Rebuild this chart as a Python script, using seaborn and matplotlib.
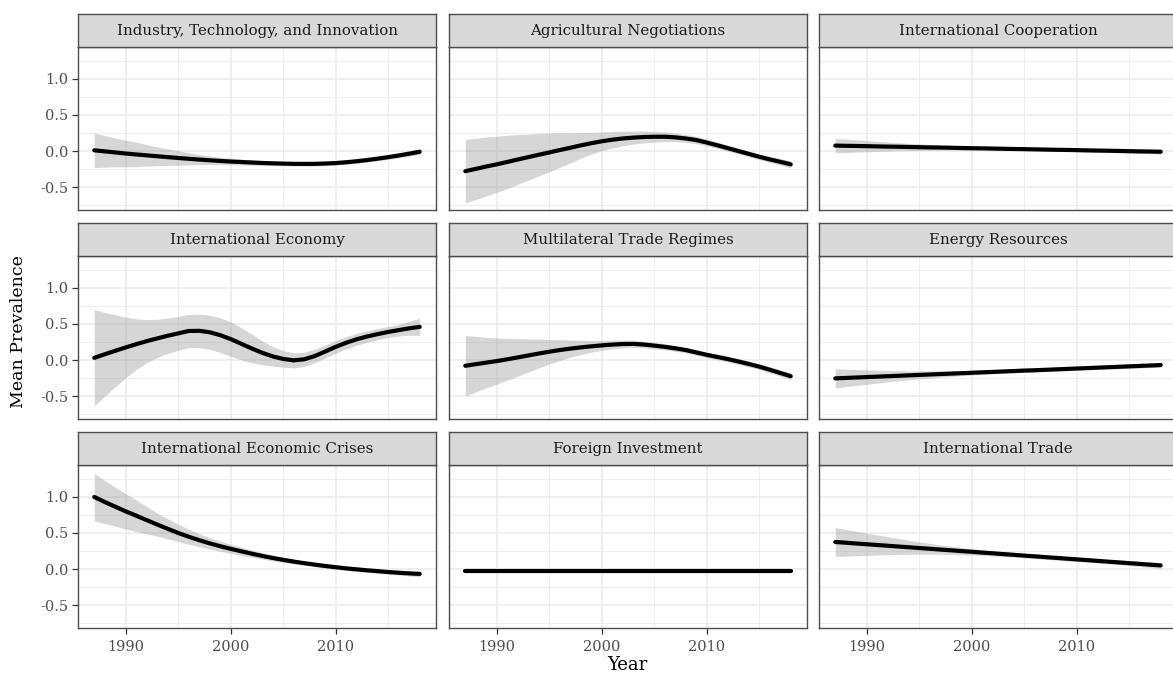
import matplotlib
matplotlib.use("Agg")
import matplotlib.pyplot as plt
import matplotlib.ticker as mticker
import pandas as pd
import seaborn as sns

# smoothed mean prevalence per topic (fit and half-width of the band)
years = list(range(1987, 2019))

topics = ["Industry, Technology, and Innovation", "Agricultural Negotiations",
          "International Cooperation", "International Economy",
          "Multilateral Trade Regimes", "Energy Resources",
          "International Economic Crises", "Foreign Investment", "International Trade"]

# rows of 8 years: 1987-1994, 1995-2002, 2003-2010, 2011-2018
industry_fit = [0.01, -0.005, -0.02, -0.035, -0.048, -0.06, -0.073, -0.085,
                -0.097, -0.108, -0.119, -0.129, -0.138, -0.146, -0.153, -0.16,
                -0.166, -0.171, -0.175, -0.178, -0.179, -0.178, -0.174, -0.167,
                -0.156, -0.142, -0.125, -0.106, -0.085, -0.062, -0.037, -0.01]
industry_se = [0.24, 0.22, 0.20, 0.185, 0.17, 0.15, 0.13, 0.115,
               0.10, 0.085, 0.07, 0.06, 0.05, 0.045, 0.04, 0.038,
               0.035, 0.033, 0.03, 0.03, 0.03, 0.03, 0.03, 0.03,
               0.03, 0.03, 0.03, 0.03, 0.03, 0.033, 0.036, 0.04]

agri_fit = [-0.28, -0.248, -0.215, -0.185, -0.152, -0.118, -0.085, -0.052,
            -0.02, 0.013, 0.045, 0.078, 0.108, 0.135, 0.157, 0.174,
            0.186, 0.194, 0.198, 0.198, 0.19, 0.174, 0.152, 0.118,
            0.08, 0.04, 0.0, -0.04, -0.08, -0.116, -0.15, -0.185]
agri_se = [0.44, 0.425, 0.41, 0.39, 0.37, 0.345, 0.32, 0.295,
           0.27, 0.24, 0.21, 0.18, 0.15, 0.13, 0.115, 0.10,
           0.09, 0.082, 0.075, 0.068, 0.06, 0.055, 0.05, 0.047,
           0.045, 0.042, 0.04, 0.04, 0.04, 0.042, 0.045, 0.05]

coop_fit = [0.075, 0.072, 0.07, 0.067, 0.064, 0.061, 0.059, 0.056,
            0.053, 0.05, 0.048, 0.045, 0.042, 0.039, 0.037, 0.034,
            0.031, 0.028, 0.026, 0.023, 0.02, 0.017, 0.015, 0.012,
            0.009, 0.006, 0.004, 0.001, -0.002, -0.005, -0.007, -0.01]
coop_se = [0.10, 0.093, 0.085, 0.078, 0.07, 0.063, 0.055, 0.05,
           0.045, 0.04, 0.035, 0.032, 0.03, 0.027, 0.025, 0.023,
           0.022, 0.021, 0.02, 0.02, 0.02, 0.02, 0.02, 0.021,
           0.022, 0.023, 0.025, 0.026, 0.028, 0.029, 0.03, 0.032]

econ_fit = [0.03, 0.08, 0.128, 0.175, 0.22, 0.262, 0.30, 0.337,
            0.37, 0.403, 0.405, 0.385, 0.345, 0.29, 0.225, 0.16,
            0.10, 0.05, 0.015, -0.005, 0.01, 0.055, 0.118, 0.183,
            0.24, 0.288, 0.327, 0.36, 0.39, 0.415, 0.44, 0.46]
econ_se = [0.67, 0.58, 0.50, 0.42, 0.35, 0.30, 0.265, 0.245,
           0.235, 0.23, 0.232, 0.237, 0.24, 0.24, 0.225, 0.20,
           0.165, 0.135, 0.115, 0.105, 0.098, 0.093, 0.09, 0.088,
           0.085, 0.082, 0.08, 0.077, 0.076, 0.08, 0.095, 0.12]

multi_fit = [-0.08, -0.058, -0.036, -0.015, 0.01, 0.036, 0.063, 0.09,
             0.115, 0.138, 0.158, 0.175, 0.19, 0.203, 0.214, 0.222,
             0.224, 0.215, 0.20, 0.183, 0.162, 0.138, 0.105, 0.072,
             0.043, 0.013, -0.02, -0.055, -0.092, -0.135, -0.18, -0.225]
multi_se = [0.42, 0.385, 0.35, 0.32, 0.29, 0.26, 0.23, 0.20,
            0.17, 0.145, 0.12, 0.10, 0.08, 0.07, 0.06, 0.055,
            0.05, 0.047, 0.045, 0.042, 0.04, 0.04, 0.04, 0.04,
            0.04, 0.04, 0.04, 0.04, 0.04, 0.042, 0.045, 0.05]

energy_fit = [-0.255, -0.249, -0.243, -0.237, -0.231, -0.225, -0.219, -0.213,
              -0.207, -0.201, -0.195, -0.189, -0.183, -0.177, -0.171, -0.165,
              -0.159, -0.153, -0.147, -0.142, -0.136, -0.13, -0.124, -0.118,
              -0.112, -0.106, -0.10, -0.094, -0.088, -0.082, -0.076, -0.07]
energy_se = [0.135, 0.122, 0.11, 0.10, 0.09, 0.08, 0.07, 0.062,
             0.055, 0.05, 0.045, 0.04, 0.035, 0.032, 0.03, 0.028,
             0.025, 0.025, 0.025, 0.025, 0.025, 0.025, 0.025, 0.025,
             0.025, 0.025, 0.025, 0.026, 0.028, 0.029, 0.03, 0.03]

crises_fit = [1.0, 0.93, 0.865, 0.80, 0.74, 0.678, 0.617, 0.558,
              0.50, 0.448, 0.40, 0.356, 0.316, 0.28, 0.246, 0.213,
              0.182, 0.153, 0.127, 0.103, 0.081, 0.061, 0.042, 0.025,
              0.009, -0.005, -0.018, -0.03, -0.042, -0.052, -0.061, -0.068]
crises_se = [0.33, 0.30, 0.27, 0.245, 0.22, 0.19, 0.16, 0.14,
             0.12, 0.105, 0.09, 0.08, 0.07, 0.062, 0.055, 0.05,
             0.045, 0.04, 0.035, 0.033, 0.03, 0.03, 0.03, 0.03,
             0.03, 0.03, 0.03, 0.03, 0.03, 0.032, 0.035, 0.04]

fdi_fit = [-0.03] * 32
fdi_se = [0.005] * 32

trade_fit = [0.375, 0.365, 0.354, 0.344, 0.333, 0.323, 0.312, 0.302,
             0.291, 0.281, 0.27, 0.26, 0.249, 0.239, 0.228, 0.218,
             0.207, 0.197, 0.186, 0.176, 0.165, 0.155, 0.144, 0.134,
             0.123, 0.113, 0.102, 0.092, 0.081, 0.071, 0.06, 0.05]
trade_se = [0.20, 0.185, 0.17, 0.155, 0.14, 0.125, 0.11, 0.098,
            0.085, 0.075, 0.065, 0.057, 0.05, 0.045, 0.04, 0.037,
            0.035, 0.032, 0.03, 0.03, 0.03, 0.03, 0.03, 0.03,
            0.03, 0.03, 0.03, 0.032, 0.035, 0.037, 0.04, 0.04]

fits = [industry_fit, agri_fit, coop_fit, econ_fit, multi_fit,
        energy_fit, crises_fit, fdi_fit, trade_fit]
ses = [industry_se, agri_se, coop_se, econ_se, multi_se,
       energy_se, crises_se, fdi_se, trade_se]

rows = []
for t, f, s in zip(topics, fits, ses):
    for y, v, e in zip(years, f, s):
        rows.append({"topic": t, "year": y, "fit": v, "lo": v - e, "hi": v + e})
df = pd.DataFrame(rows)

sns.set_theme(style="white")
plt.rcParams["font.family"] = ["DejaVu Serif"]
plt.rcParams["axes.unicode_minus"] = False

W, H = 1173, 675
fig = plt.figure(figsize=(W / 100, H / 100), dpi=100)
fig.patch.set_facecolor("white")

col_left = [78, 449, 819]
strip_top = [14, 223, 432]
panel_w, strip_h, panel_h = 358, 33, 163
border = "#4D4D4D"

for i, topic in enumerate(topics):
    r, c = divmod(i, 3)
    ax = fig.add_axes([col_left[c] / W, 1 - (strip_top[r] + strip_h + panel_h) / H,
                       panel_w / W, panel_h / H])
    sub = df[df["topic"] == topic]
    ax.fill_between(sub["year"], sub["lo"], sub["hi"], color="#999999", alpha=0.4,
                    linewidth=0)
    sns.lineplot(data=sub, x="year", y="fit", ax=ax, color="black", linewidth=3.0,
                 errorbar=None)
    ax.set_xlim(1985.45, 2019.55)
    ax.set_ylim(-0.819, 1.444)
    ax.set_xlabel("")
    ax.set_ylabel("")
    ax.xaxis.set_major_locator(mticker.FixedLocator([1990, 2000, 2010]))
    ax.xaxis.set_minor_locator(mticker.FixedLocator([1995, 2005, 2015]))
    ax.yaxis.set_major_locator(mticker.FixedLocator([-0.5, 0.0, 0.5, 1.0]))
    ax.yaxis.set_minor_locator(mticker.FixedLocator([-0.75, -0.25, 0.25, 0.75, 1.25]))
    ax.yaxis.set_major_formatter(mticker.FormatStrFormatter("%.1f"))
    ax.grid(True, which="major", color="#EBEBEB", linewidth=1.1)
    ax.grid(True, which="minor", color="#EBEBEB", linewidth=0.6)
    ax.set_axisbelow(True)
    ax.tick_params(which="minor", length=0)
    ax.tick_params(which="major", length=4, width=0.9, color="#333333",
                   labelcolor="#4D4D4D", labelsize=10.5)
    ax.tick_params(axis="y", pad=3, left=(c == 0), labelleft=(c == 0))
    ax.tick_params(axis="x", pad=4.5, bottom=(r == 2), labelbottom=(r == 2))
    for sp in ax.spines.values():
        sp.set_color(border)
        sp.set_linewidth(1.0)

    sax = fig.add_axes([col_left[c] / W, 1 - (strip_top[r] + strip_h) / H,
                        panel_w / W, strip_h / H])
    sax.set_facecolor("#D9D9D9")
    sax.set_xticks([])
    sax.set_yticks([])
    for sp in sax.spines.values():
        sp.set_color(border)
        sp.set_linewidth(1.0)
    if c == 2:
        # the reference is cut off at the right edge, so the last column has no right border
        ax.spines["right"].set_visible(False)
        sax.spines["right"].set_visible(False)
    sax.text(0.5, 0.48, topic, ha="center", va="center", fontsize=10.8,
             color="#1A1A1A", transform=sax.transAxes)

fig.text(19 / W, 1 - 332 / H, "Mean Prevalence", rotation=90, ha="center",
         va="center", fontsize=12.5, color="black")
fig.text(627 / W, 1 - 656 / H, "Year", ha="center", va="top", fontsize=13,
         color="black")

fig.savefig("out.png", dpi=100, facecolor="white")
